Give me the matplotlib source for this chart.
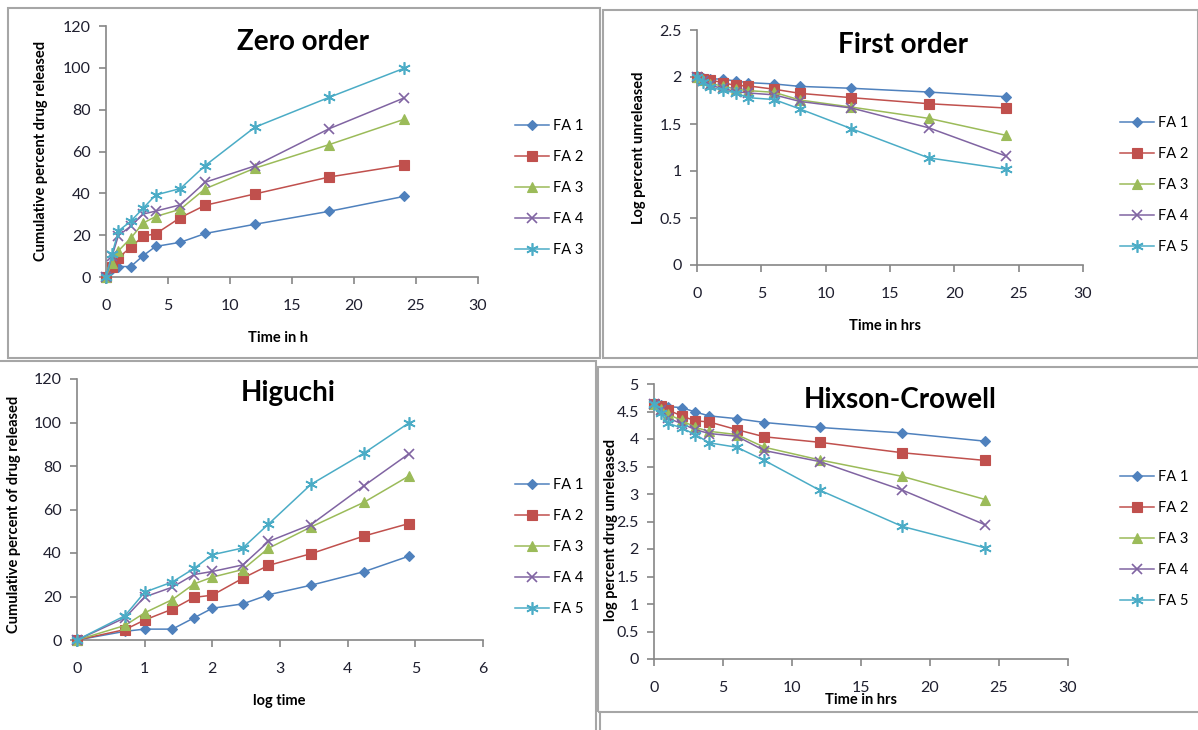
import matplotlib
matplotlib.use("Agg")
import matplotlib.pyplot as plt
from matplotlib.lines import Line2D
from matplotlib.patches import Rectangle

plt.rcParams['font.family'] = ['Lato', 'DejaVu Sans']

# sampling times (h) and square root of time used for the Higuchi plot
time_h = [0, 0.5, 1, 2, 3, 4, 6, 8, 12, 18, 24]
root_t = [0, 0.71, 1, 1.41, 1.73, 2, 2.45, 2.83, 3.46, 4.24, 4.90]

# cumulative percent drug released
rel_fa1 = [0, 4, 5, 5, 10.2, 14.6, 16.6, 20.8, 25.2, 31.4, 38.5]
rel_fa2 = [0, 4.8, 9.2, 14.2, 19.6, 20.6, 28.4, 34.3, 39.7, 47.8, 53.5]
rel_fa3 = [0, 6.7, 12.5, 18.6, 25.8, 28.9, 32.4, 42.2, 52.0, 63.3, 75.3]
rel_fa4 = [0, 10.2, 19.8, 24.3, 30.1, 31.5, 34.5, 45.3, 53.1, 70.9, 85.5]
rel_fa5 = [0, 11.2, 22.0, 26.7, 32.9, 39.2, 42.3, 53.3, 71.6, 85.9, 99.7]

# log percent unreleased (first order)
log_fa1 = [2, 1.985, 1.98, 1.978, 1.957, 1.94, 1.926, 1.90, 1.88, 1.84, 1.79]
log_fa2 = [2, 1.98, 1.968, 1.94, 1.91, 1.905, 1.87, 1.826, 1.78, 1.716, 1.67]
log_fa3 = [2, 1.97, 1.93, 1.905, 1.87, 1.855, 1.837, 1.755, 1.68, 1.56, 1.38]
log_fa4 = [2, 1.96, 1.91, 1.88, 1.845, 1.83, 1.81, 1.74, 1.67, 1.46, 1.16]
log_fa5 = [2, 1.95, 1.89, 1.86, 1.83, 1.78, 1.76, 1.66, 1.45, 1.14, 1.02]

# cube root of percent unreleased (Hixson-Crowell)
hc_fa1 = [4.64, 4.62, 4.59, 4.57, 4.49, 4.42, 4.37, 4.30, 4.21, 4.11, 3.96]
hc_fa2 = [4.64, 4.60, 4.53, 4.42, 4.33, 4.31, 4.17, 4.04, 3.94, 3.75, 3.61]
hc_fa3 = [4.64, 4.55, 4.45, 4.34, 4.21, 4.14, 4.08, 3.85, 3.62, 3.32, 2.90]
hc_fa4 = [4.64, 4.52, 4.38, 4.28, 4.17, 4.10, 4.05, 3.79, 3.59, 3.07, 2.44]
hc_fa5 = [4.64, 4.47, 4.29, 4.20, 4.08, 3.93, 3.85, 3.61, 3.07, 2.41, 2.02]

labels_zero = ['FA 1', 'FA 2', 'FA 3', 'FA 4', 'FA 3']
labels = ['FA 1', 'FA 2', 'FA 3', 'FA 4', 'FA 5']

colors = ['#4F81BD', '#C0504D', '#9BBB59', '#8064A2', '#4BACC6']
markers = ['D', 's', '^', 'x', (6, 2, 0)]
msizes = [5.5, 7.5, 7.5, 7.5, 9]

W, H = 1198, 730
fig = plt.figure(figsize=(W / 100, H / 100), dpi=100)


def box(x0, y0, x1, y1):
    return [x0 / W, 1 - y1 / H, (x1 - x0) / W, (y1 - y0) / H]


def fx(x):
    return x / W


def fy(y):
    return 1 - y / H


def panel(ax_px, xs, series, labs, xlim, xstep, ylim, ystep,
          title, title_xy, ylab, ylab_xy, xlab, xlab_xy, leg_xy):
    ax = fig.add_axes(box(*ax_px))
    for i, ys in enumerate(series):
        ax.plot(xs, ys, color=colors[i], lw=1.1, marker=markers[i],
                ms=msizes[i], mew=1.2 if i >= 3 else 0.8,
                mec=colors[i], mfc=colors[i], label=labs[i], clip_on=False,
                zorder=3 + i)
    ax.set_xlim(*xlim)
    ax.set_ylim(*ylim)
    xt = [xlim[0] + k * xstep for k in range(int(round((xlim[1] - xlim[0]) / xstep)) + 1)]
    yt = [ylim[0] + k * ystep for k in range(int(round((ylim[1] - ylim[0]) / ystep)) + 1)]
    ax.set_xticks(xt)
    ax.set_yticks(yt)
    ax.set_xticklabels(['%g' % v for v in xt])
    ax.set_yticklabels(['%g' % v for v in yt])
    for s in ['top', 'right']:
        ax.spines[s].set_visible(False)
    for s in ['left', 'bottom']:
        ax.spines[s].set_color('#868686')
        ax.spines[s].set_linewidth(1.2)
    ax.tick_params(axis='both', colors='#868686', labelcolor='#1F1F2F',
                   labelsize=11.5, length=5, width=1.2, direction='out')
    ax.tick_params(axis='x', pad=11)
    ax.tick_params(axis='y', pad=6)
    fig.text(fx(title_xy[0]), fy(title_xy[1]), title, fontsize=20,
             fontweight='bold', ha='center', va='center')
    fig.text(fx(ylab_xy[0]), fy(ylab_xy[1]), ylab, fontsize=10.5,
             fontweight='bold', rotation=90, ha='center', va='center')
    fig.text(fx(xlab_xy[0]), fy(xlab_xy[1]), xlab, fontsize=10.5,
             fontweight='bold', ha='center', va='center')
    ax.legend(loc='upper left', bbox_to_anchor=(fx(leg_xy[0]), fy(leg_xy[1])),
              bbox_transform=fig.transFigure, frameon=False, fontsize=10.5,
              handlelength=2.3, handletextpad=0.3, labelspacing=1.17,
              borderaxespad=0, borderpad=0)
    return ax


# chart-area borders
border = '#A6A6A6'
for x0, y0, x1, y1 in [(8, 8, 600, 358), (603, 10, 1198, 358),
                       (-2, 361, 596, 740), (598, 367, 1200, 712)]:
    fig.add_artist(Rectangle((fx(x0), fy(y1)), fx(x1 - x0), (y1 - y0) / H,
                             transform=fig.transFigure, fill=False,
                             edgecolor=border, lw=1.5))
fig.add_artist(Line2D([fx(600), fx(600)], [fy(712), fy(730)],
                      transform=fig.transFigure, color=border, lw=1.5))

panel((106, 26, 478, 277), time_h,
      [rel_fa1, rel_fa2, rel_fa3, rel_fa4, rel_fa5], labels_zero,
      (0, 30), 5, (0, 120), 20,
      'Zero order', (303, 42),
      'Cumulative percent drug released', (41, 151),
      'Time in h', (278, 338), (515, 119))

panel((697, 30, 1083, 265), time_h,
      [log_fa1, log_fa2, log_fa3, log_fa4, log_fa5], labels,
      (0, 30), 5, (0, 2.5), 0.5,
      'First order', (903, 45),
      'Log percent unreleased', (639, 148),
      'Time in hrs', (885, 326), (1120, 116))

panel((77, 379, 483, 640), root_t,
      [rel_fa1, rel_fa2, rel_fa3, rel_fa4, rel_fa5], labels,
      (0, 6), 1, (0, 120), 20,
      'Higuchi', (288, 393),
      'Cumulative percent of drug released', (14, 514),
      'log time', (279, 701), (515, 478))

panel((654, 384, 1068, 659), time_h,
      [hc_fa1, hc_fa2, hc_fa3, hc_fa4, hc_fa5], labels,
      (0, 30), 5, (0, 5), 0.5,
      'Hixson-Crowell', (900, 400),
      'log percent drug unreleased', (611, 530),
      'Time in hrs', (861, 700), (1120, 470))

fig.savefig('out.png', dpi=100)
